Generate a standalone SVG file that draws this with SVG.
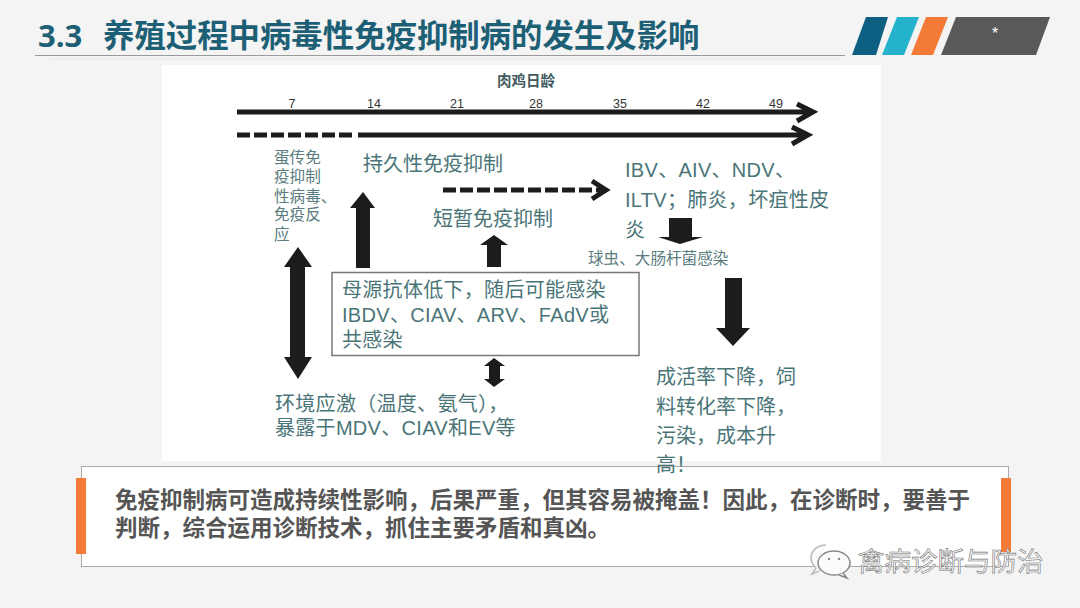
<svg xmlns="http://www.w3.org/2000/svg" width="1080" height="608" viewBox="0 0 1080 608">
<defs>
<style>
text{font-family:"Liberation Sans","Noto Sans CJK SC",sans-serif}
.t{fill:#4a7578;font-size:20px}
.x{letter-spacing:.3px}
.s{fill:#5a7c80;font-size:15.6px}
.n{fill:#333;font-size:12.500px;text-anchor:middle}
.b{fill:#555;font-size:22.5px;font-weight:700}
.a{fill:#1c1c1c}
.l{fill:none;stroke:#1c1c1c;stroke-width:5}
.o{fill:#f47a38}
</style>
</defs>
<rect width="1080" height="608" fill="#f4f4f4"/>
<g id="header">
<text x="38" y="47" font-size="31" font-weight="700" fill="#1d6076" style="font-family:'Open Sans','Noto Sans CJK SC',sans-serif">3.3</text>
<text x="103" y="47" font-size="31.4" font-weight="700" fill="#1d6076">养殖过程中病毒性免疫抑制病的发生及影响</text>
<path d="M35 55.500H845" stroke="#9a9a9a" stroke-width="1"/>
<path d="M50 59H840" stroke="#e6e6e6" stroke-width="1"/>
<polygon points="866,17 888,17 876,55 852,55" fill="#0c5f80"/>
<polygon points="897,17 919,17 904,55 882,55" fill="#25b2cc"/>
<polygon points="926,17 948,17 933,55 911,55" fill="#f47a38"/>
<polygon points="956,17 1050,17 1036,55 941,55" fill="#595959"/>
<text x="995" y="39" font-size="16" fill="#fff" text-anchor="middle">*</text>
</g>
<rect id="panel" x="162" y="65" width="719" height="396" fill="#fff"/>
<g id="axis">
<text x="526" y="86" font-size="14.500" font-weight="700" fill="#3f5a60" text-anchor="middle">肉鸡日龄</text>
<text class="n" x="292" y="108">7</text>
<text class="n" x="374" y="108">14</text>
<text class="n" x="457" y="108">21</text>
<text class="n" x="536" y="108">28</text>
<text class="n" x="620" y="108">35</text>
<text class="n" x="703" y="108">42</text>
<text class="n" x="776" y="108">49</text>
</g>
<g id="connectors">
<path class="l" d="M237 112H811M797 104L813 112L797 121"/>
<path class="l" d="M358 135H806M792 127L808 135L792 144"/>
<path class="l" d="M237 135H354" stroke-dasharray="13 4"/>
<path class="l" d="M443 190H604" stroke-dasharray="13 4"/>
<path class="l" d="M592 181L606 190L592 199"/>
<polygon class="a" points="363,192 375,208 370,208 370,268 356,268 356,208 350,208"/>
<polygon class="a" points="494,235 508,245 501,245 501,267 487,267 487,245 480,245"/>
<polygon class="a" points="298,247 312,267 305,267 305,357 312,357 298,379 284,357 290,357 290,267 284,267"/>
<polygon class="a" points="494,358 505,366 500,366 500,379 505,379 494,387 484,379 489,379 489,366 484,366"/>
<polygon class="a" points="669,218 692,218 692,237 703,237 680,244 658,237 669,237"/>
<polygon class="a" points="725,278 742,278 742,328 750,328 733,346 716,328 725,328"/>
</g>
<g id="node-egg"><text class="s"><tspan x="274" y="163">蛋传免</tspan><tspan x="274" y="182">疫抑制</tspan><tspan x="274" y="202">性病毒、</tspan><tspan x="274" y="220">免疫反</tspan><tspan x="274" y="240">应</tspan></text></g>
<g id="node-long"><text class="t" x="363" y="171">持久性免疫抑制</text></g>
<g id="node-short"><text class="t" x="433" y="226">短暂免疫抑制</text></g>
<g id="node-ibv"><text class="t x"><tspan x="625" y="177">IBV、AIV、NDV、</tspan><tspan x="625" y="207">ILTV；肺炎，坏疽性皮</tspan><tspan x="625" y="237">炎</tspan></text></g>
<g id="node-coccidia"><text class="s" x="588" y="264">球虫、大肠杆菌感染</text></g>
<g id="node-maternal">
<rect x="332" y="272.500" width="307" height="83" fill="#fff" stroke="#777" stroke-width="1.500"/>
<text class="t x"><tspan x="342" y="297">母源抗体低下，随后可能感染</tspan><tspan x="342" y="322">IBDV、CIAV、ARV、FAdV或</tspan><tspan x="342" y="347">共感染</tspan></text>
</g>
<g id="node-stress"><text class="t x"><tspan x="275" y="411">环境应激（温度、氨气），</tspan><tspan x="275" y="435">暴露于MDV、CIAV和EV等</tspan></text></g>
<g id="node-summary">
<rect x="81.500" y="466.500" width="927" height="100" fill="#fff" stroke="#aaa" stroke-width="1"/>
<rect class="o" x="76" y="478" width="10" height="76"/>
<rect class="o" x="1001" y="478" width="10" height="74"/>
<text class="b"><tspan x="115" y="508">免疫抑制病可造成持续性影响，后果严重，但其容易被掩盖！因此，在诊断时，要善于</tspan><tspan x="115" y="536">判断，综合运用诊断技术，抓住主要矛盾和真凶。</tspan></text>
</g>
<g id="node-result"><text class="t"><tspan x="656" y="384">成活率下降，饲</tspan><tspan x="656" y="414">料转化率下降，</tspan><tspan x="656" y="443">污染，成本升</tspan><tspan x="656" y="472">高！</tspan></text></g>
<g id="watermark">
<path d="M826 545c-9 0-15 6-15 13 0 4 2 7 5 10l-4 6 7-3" fill="#fbfbfb" stroke="#bbb" stroke-width="1.500"/>
<ellipse cx="834" cy="563" rx="16" ry="12" fill="#fbfbfb" stroke="#888" stroke-width="1.500"/>
<path d="M843 573l4 5-8-3" fill="#fbfbfb" stroke="#888" stroke-width="1.500"/>
<circle cx="829" cy="559" r="1.200" fill="#888"/><circle cx="839" cy="559" r="1.200" fill="#888"/>
<text x="858" y="571" font-size="26.500" fill="#f7f7f7" stroke="#777" stroke-width=".6">禽病诊断与防治</text>
</g>
</svg>
